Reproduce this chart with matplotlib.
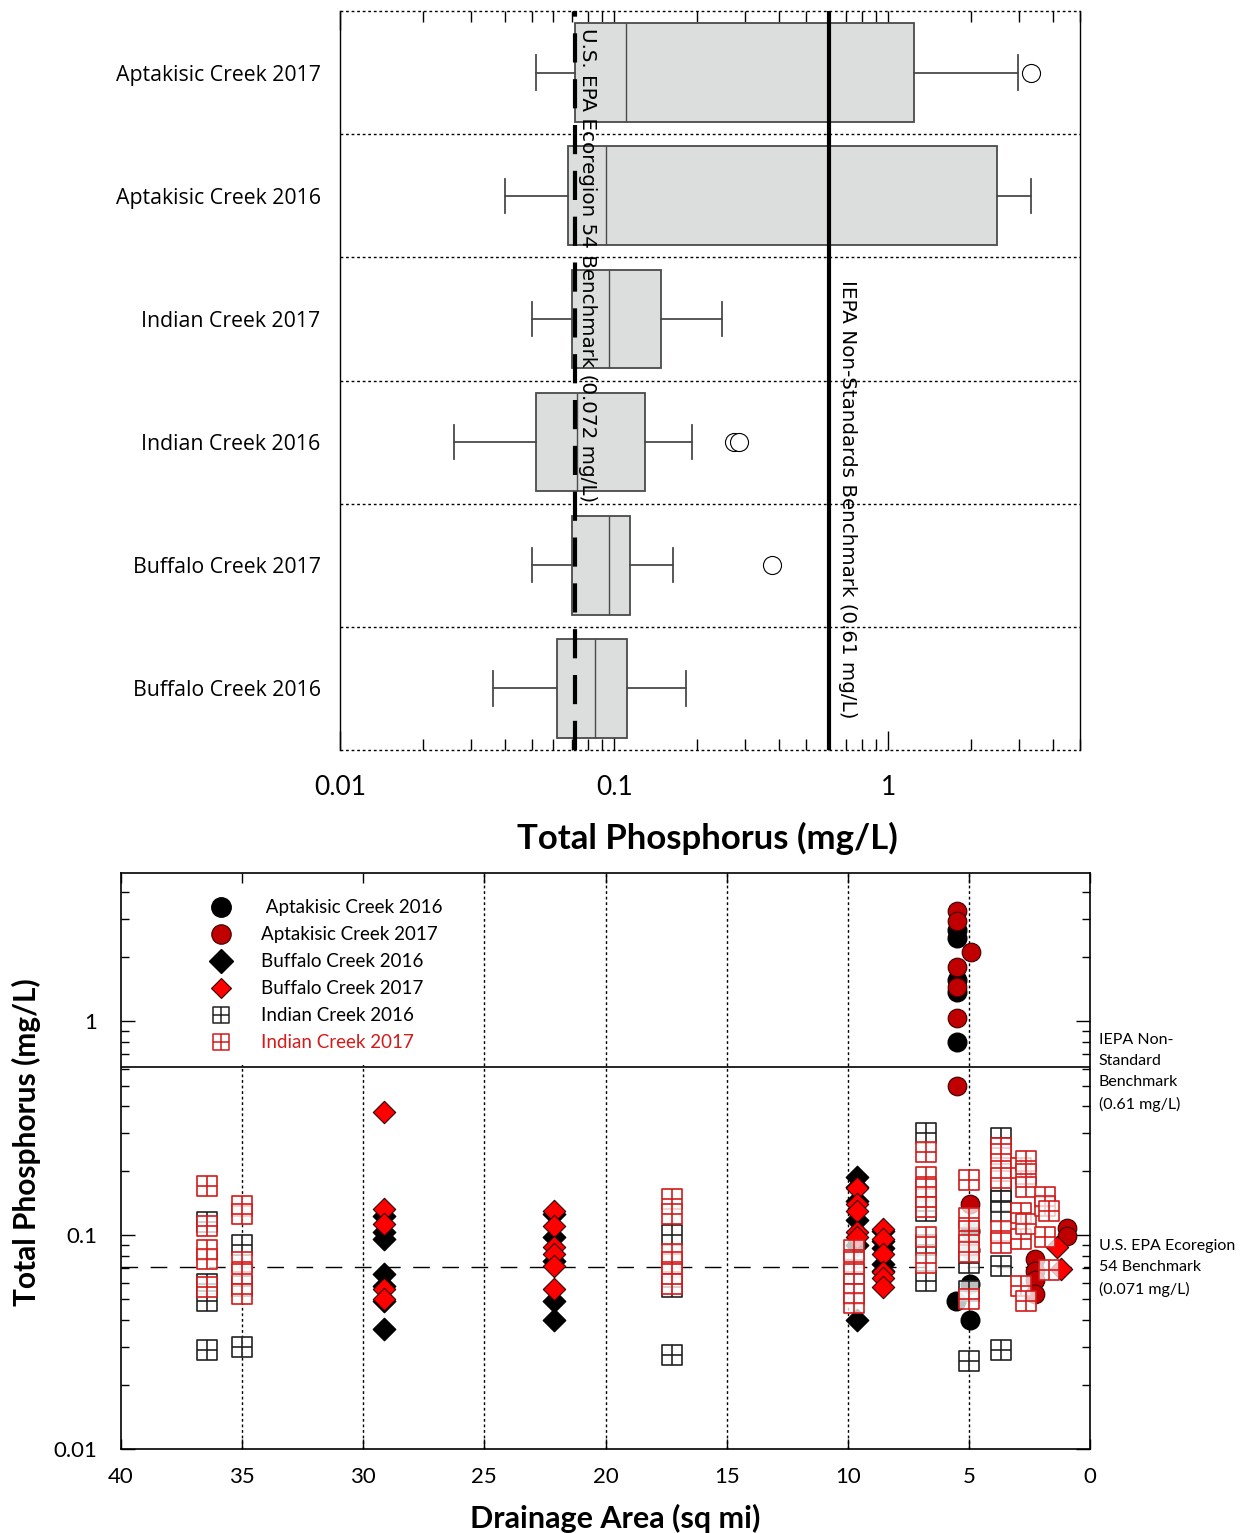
import matplotlib
matplotlib.use('Agg')
import matplotlib.pyplot as plt
from matplotlib.path import Path
from matplotlib.lines import Line2D
from matplotlib.patches import Rectangle
from matplotlib.transforms import offset_copy
from matplotlib.ticker import LogLocator, NullFormatter

plt.rcParams['font.family'] = ['Lato', 'DejaVu Sans']

# ---- box plot summaries (bottom row first) ----
sites = ['Buffalo Creek 2016', 'Buffalo Creek 2017', 'Indian Creek 2016',
         'Indian Creek 2017', 'Aptakisic Creek 2016', 'Aptakisic Creek 2017']
whislo = [0.036, 0.050, 0.026, 0.050, 0.040, 0.052]
q1 = [0.062, 0.070, 0.052, 0.070, 0.068, 0.072]
med = [0.085, 0.096, 0.073, 0.096, 0.093, 0.110]
q3 = [0.1115, 0.114, 0.129, 0.1485, 2.48, 1.245]
whishi = [0.183, 0.164, 0.193, 0.248, 3.30, 2.96]
fliers = [[], [0.377], [0.274, 0.286], [], [], [3.30]]

eco_box = 0.072     # U.S. EPA ecoregion 54 benchmark (box plot)
eco_scatter = 0.071  # same benchmark as labelled on the scatter
iepa = 0.61

# ---- individual samples vs drainage area ----
apt16_area = [5.49, 5.49, 5.49, 5.49, 5.49, 5.55, 4.95, 4.95, 4.95, 4.95]
apt16_tp = [2.67, 2.45, 1.56, 1.37, 0.80, 0.049, 0.059, 0.040, 0.105, 0.085]

apt17_area = [5.49, 5.49, 5.49, 5.49, 5.49, 5.49, 4.91, 4.95,
              2.27, 2.27, 2.27, 2.27, 0.95, 0.95]
apt17_tp = [3.27, 2.94, 1.79, 1.44, 1.04, 0.496, 2.10, 0.14,
            0.0775, 0.068, 0.0614, 0.053, 0.108, 0.0995]

buf16_area = [29.14] * 7 + [22.13] * 5 + [9.62] * 6 + [8.54] * 5
buf16_tp = [0.123, 0.103, 0.096, 0.066, 0.058, 0.049, 0.0365,
            0.125, 0.0985, 0.076, 0.049, 0.040,
            0.186, 0.167, 0.145, 0.118, 0.090, 0.040,
            0.105, 0.094, 0.087, 0.073, 0.068]

buf17_area = [29.14] * 5 + [22.13] * 6 + [9.62] * 5 + [8.54] * 6 + [1.36, 1.2]
buf17_tp = [0.375, 0.132, 0.113, 0.056, 0.050,
            0.129, 0.110, 0.088, 0.082, 0.072, 0.056,
            0.166, 0.140, 0.130, 0.103, 0.098,
            0.107, 0.096, 0.082, 0.067, 0.063, 0.057,
            0.088, 0.0697]

ind16_area = [36.45] * 4 + [35.0] * 3 + [17.25] * 3 + [6.77] * 4 + [5.0] * 3 + [3.67] * 6
ind16_tp = [0.115, 0.059, 0.049, 0.029,
            0.090, 0.058, 0.030,
            0.100, 0.057, 0.0276,
            0.30, 0.13, 0.09, 0.061,
            0.074, 0.055, 0.0258,
            0.285, 0.16, 0.145, 0.128, 0.072, 0.029]

ind17_area = ([36.45] * 5 + [35.0] * 5 + [17.25] * 6 + [9.74] * 6 + [6.77] * 7
              + [5.0] * 6 + [3.67] * 6 + [2.85] * 4 + [2.64] * 5 + [1.86] * 3 + [1.7] * 2)
ind17_tp = [0.17, 0.11, 0.085, 0.077, 0.057,
            0.137, 0.125, 0.075, 0.066, 0.053,
            0.148, 0.126, 0.082, 0.0745, 0.066, 0.059,
            0.085, 0.075, 0.066, 0.059, 0.053, 0.048,
            0.245, 0.186, 0.165, 0.15, 0.135, 0.0975, 0.074,
            0.18, 0.12, 0.105, 0.09, 0.083, 0.05,
            0.255, 0.24, 0.20, 0.185, 0.105, 0.092,
            0.207, 0.127, 0.096, 0.058,
            0.223, 0.194, 0.167, 0.113, 0.049,
            0.15, 0.137, 0.098,
            0.129, 0.0688]

# square with a cross through it, used for Indian Creek
grid_sq = Path([(-1, -1), (1, -1), (1, 1), (-1, 1), (-1, -1), (0, -1), (0, 1), (-1, 0), (1, 0)],
               [Path.MOVETO, Path.LINETO, Path.LINETO, Path.LINETO, Path.CLOSEPOLY,
                Path.MOVETO, Path.LINETO, Path.MOVETO, Path.LINETO])

fig = plt.figure(figsize=(12.47, 15.33), dpi=100)

# ================= top: box plots =================
ax1 = fig.add_axes([340 / 1247, 1 - 750 / 1533, 740 / 1247, 739 / 1533])
stats = [dict(label=s, whislo=a, q1=b, med=c, q3=d, whishi=e, fliers=f)
         for s, a, b, c, d, e, f in zip(sites, whislo, q1, med, q3, whishi, fliers)]
edge = '#4a4a4a'
ax1.bxp(stats, positions=range(1, 7), orientation='horizontal', widths=0.8,
        patch_artist=True, capwidths=0.28,
        boxprops=dict(facecolor='#dcdddd', edgecolor=edge, linewidth=1.3),
        whiskerprops=dict(color=edge, linewidth=1.3),
        capprops=dict(color=edge, linewidth=1.3),
        medianprops=dict(color=edge, linewidth=1.0),
        flierprops=dict(marker='o', markerfacecolor='white', markeredgecolor='black',
                        markersize=13, markeredgewidth=0.8))
ax1.set_xscale('log')
ax1.set_xlim(0.01, 5.0)
ax1.set_ylim(0.5, 6.5)
for yy in [0.5, 1.5, 2.5, 3.5, 4.5, 5.5, 6.5]:
    ax1.axhline(yy, color='black', lw=1.0, ls=(0, (2, 2)), clip_on=False, zorder=0.5)
ax1.spines['top'].set_visible(False)
ax1.spines['bottom'].set_visible(False)
for sp in ['left', 'right']:
    ax1.spines[sp].set_linewidth(1.0)

ax1.axvline(eco_box, color='black', lw=3, ls=(0, (7, 4)), zorder=4)
ax1.axvline(iepa, color='black', lw=3, zorder=4)
ax1.text(eco_box, 6.36, 'U.S. EPA Ecoregion 54 Benchmark (0.072 mg/L)', rotation=270,
         ha='left', va='top', fontsize=14.3, family='DejaVu Sans', zorder=5,
         transform=offset_copy(ax1.transData, fig=fig, x=3, units='dots'))
ax1.text(iepa, 4.32, 'IEPA Non-Standards Benchmark (0.61 mg/L)', rotation=270,
         ha='left', va='top', fontsize=14.3, family='DejaVu Sans', zorder=5,
         transform=offset_copy(ax1.transData, fig=fig, x=9, units='dots'))

ax1.set_xticks([0.01, 0.1, 1], ['0.01', '0.1', '1'])
ax1.xaxis.set_minor_locator(LogLocator(base=10, subs=range(2, 10)))
ax1.xaxis.set_minor_formatter(NullFormatter())
ax1.tick_params(axis='x', which='major', direction='in', top=True, length=14,
                width=1, labelsize=19, pad=18)
ax1.tick_params(axis='x', which='minor', direction='in', top=True, length=8, width=1)
ax1.set_yticks(range(1, 7), sites)
ax1.tick_params(axis='y', length=0, pad=14, labelsize=15.3)
for lbl in ax1.get_yticklabels():
    lbl.set_fontfamily('Open Sans')
ax1.set_xlabel('Total Phosphorus (mg/L)', fontsize=25, fontweight='bold')
ax1.xaxis.set_label_coords(0.497, -0.097)
ax1.xaxis.label.set_va('top')

# ================= bottom: samples vs drainage area =================
ax2 = fig.add_axes([121 / 1247, 1 - 1449 / 1533, 969 / 1247, 576 / 1533])
ax2.set_yscale('log')
ax2.set_xlim(40, 0)
ax2.set_ylim(0.01, 4.93)

for xx in [35, 30, 25, 20, 15, 10, 5]:
    ax2.axvline(xx, color='black', lw=1.0, ls=(0, (2, 2)), zorder=0.5)
ax2.add_patch(Rectangle((0, 0.667), 0.36, 0.333, transform=ax2.transAxes,
                        facecolor='white', edgecolor='none', zorder=0.8))
ax2.axhline(iepa, color='black', lw=1.2, zorder=0.9)
ax2.axhline(eco_scatter, color='black', lw=1.0, ls=(0, (12, 9)), zorder=0.9)

ax2.scatter(apt16_area, apt16_tp, s=180, marker='o', color='black', zorder=2)
ax2.scatter(apt17_area, apt17_tp, s=180, marker='o', facecolor='#c00000',
            edgecolor='#3a0000', linewidths=0.8, zorder=2.1)
ax2.scatter(buf16_area, buf16_tp, s=130, marker='D', color='black', zorder=2.2)
ax2.scatter(buf17_area, buf17_tp, s=130, marker='D', facecolor='#ff0000',
            edgecolor='#300000', linewidths=0.8, zorder=2.3)
ax2.scatter(ind16_area, ind16_tp, s=190, marker=grid_sq, facecolor=(1, 1, 1, 0.75),
            edgecolor='#222222', linewidths=1.2, zorder=2.4)
ax2.scatter(ind17_area, ind17_tp, s=190, marker=grid_sq, facecolor=(1, 1, 1, 0.75),
            edgecolor='#d41a1a', linewidths=1.2, zorder=2.5)

handles = [
    Line2D([], [], ls='none', marker='o', ms=14, color='black'),
    Line2D([], [], ls='none', marker='o', ms=14, mfc='#c00000', mec='#3a0000', mew=0.8),
    Line2D([], [], ls='none', marker='D', ms=12, color='black'),
    Line2D([], [], ls='none', marker='D', ms=10, mfc='#ff0000', mec='#300000', mew=0.8),
    Line2D([], [], ls='none', marker=grid_sq, ms=12, mfc='none', mec='#222222', mew=1.1),
    Line2D([], [], ls='none', marker=grid_sq, ms=12, mfc='none', mec='#d41a1a', mew=1.1),
]
labels = [' Aptakisic Creek 2016', 'Aptakisic Creek 2017', 'Buffalo Creek 2016',
          'Buffalo Creek 2017', 'Indian Creek 2016', 'Indian Creek 2017']
leg = ax2.legend(handles, labels, loc='upper left', bbox_to_anchor=(0.094, 0.954),
                 frameon=False, fontsize=13.5, handlelength=1.0, handletextpad=1.6,
                 labelspacing=0.53, borderpad=0, borderaxespad=0)
leg.get_texts()[-1].set_color('#d41a1a')
leg.set_zorder(3)

ax2.text(1.009, 0.722, 'IEPA Non-\nStandard\nBenchmark\n(0.61 mg/L)', transform=ax2.transAxes,
         ha='left', va='top', fontsize=11.5, linespacing=1.65)
ax2.text(1.009, 0.365, 'U.S. EPA Ecoregion\n54 Benchmark\n(0.071 mg/L)', transform=ax2.transAxes,
         ha='left', va='top', fontsize=11.5, linespacing=1.65)

ax2.set_xticks(range(0, 41, 5), [str(v) for v in range(0, 41, 5)])
ax2.set_yticks([0.01, 0.1, 1], ['0.01', '0.1', '1'])
ax2.yaxis.set_minor_locator(LogLocator(base=10, subs=range(2, 10)))
ax2.yaxis.set_minor_formatter(NullFormatter())
ax2.tick_params(axis='both', which='major', direction='in', top=True, right=True,
                length=10, width=1, labelsize=16)
ax2.tick_params(axis='x', which='major', length=7, pad=13)
ax2.tick_params(axis='y', which='major', pad=17)
ax2.tick_params(axis='y', which='minor', direction='in', left=True, right=True,
                length=6, width=1)
for sp in ax2.spines.values():
    sp.set_linewidth(1.2)
    sp.set_zorder(4)
ax2.set_xlabel('Drainage Area (sq mi)', fontsize=22, fontweight='bold')
ax2.xaxis.set_label_coords(0.51, -0.096)
ax2.xaxis.label.set_va('top')
ax2.set_ylabel('Total Phosphorus (mg/L)', fontsize=21.5, fontweight='bold')
ax2.yaxis.set_label_coords(-0.083, 0.533)

fig.savefig('out.png', dpi=100)
